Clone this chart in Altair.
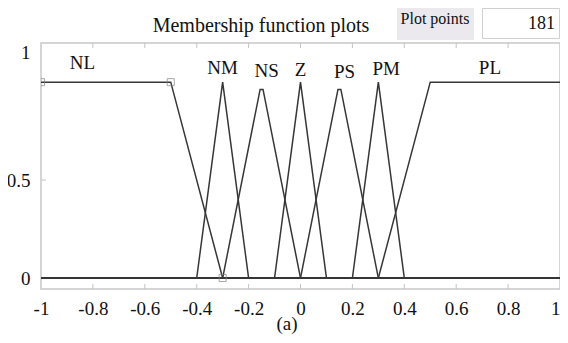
import altair as alt
import pandas as pd

# ---- data ----
mf_names = ["NL", "NM", "NS", "Z", "PS", "PM", "PL"]
mf_x = [
    [-1, -0.5, -0.3, 1],
    [-1, -0.4, -0.3, -0.2, 1],
    [-1, -0.3, -0.1556, -0.1444, 0, 1],
    [-1, -0.1, 0, 0.1, 1],
    [-1, 0, 0.1444, 0.1556, 0.3, 1],
    [-1, 0.2, 0.3, 0.4, 1],
    [-1, 0.3, 0.5, 1],
]
mf_y = [
    [1, 1, 0, 0],
    [0, 0, 1, 0, 0],
    [0, 0, 0.963, 0.963, 0, 0],
    [0, 0, 1, 0, 0],
    [0, 0, 0.963, 0.963, 0, 0],
    [0, 0, 1, 0, 0],
    [0, 0, 1, 1],
]
label_x = [-0.84, -0.30, -0.13, 0.0, 0.17, 0.33, 0.73]
label_y = [1.10, 1.07, 1.055, 1.06, 1.05, 1.065, 1.07]
marker_x = [-1, -0.5, -0.3]
marker_y = [1, 1, 0]
xtick_values = [-1, -0.8, -0.6, -0.4, -0.2, 0, 0.2, 0.4, 0.6, 0.8, 1]
xtick_inner = [-0.8, -0.6, -0.4, -0.2, 0, 0.2, 0.4, 0.6, 0.8]
ytick_values = [0, 0.5, 1.15]
ytick_labels = ["0", "0.5", "1"]
ytick_inner = [0, 0.5]
title_text = "Membership function plots"
points_label = "Plot points"
points_value = "181"
caption = "(a)"

# ---- tables ----
rows = []
for name, xs, ys in zip(mf_names, mf_x, mf_y):
    for i, (xv, yv) in enumerate(zip(xs, ys)):
        rows.append({"mf": name, "i": i, "x": xv, "y": yv})
lines_df = pd.DataFrame(rows)
labels_df = pd.DataFrame({"mf": mf_names, "x": label_x, "y": label_y})
markers_df = pd.DataFrame({"x": marker_x, "y": marker_y})
xin_df = pd.DataFrame({"x": xtick_inner})
yin_df = pd.DataFrame({"y": ytick_inner})

W, H = 519, 246
FONT = "Liberation Serif"
TXT = "#111111"

xscale = alt.Scale(domain=[-1, 1], nice=False, zero=False)
yscale = alt.Scale(domain=[-0.056, 1.2], nice=False, zero=False)

x_label_expr = "datum.value < -0.001 ? '-' + format(-datum.value, '.1~f') : format(datum.value, '.1~f')"
y_label_expr = "'" + ytick_labels[-1] + "'"
for v, l in reversed(list(zip(ytick_values[:-1], ytick_labels[:-1]))):
    y_label_expr = f"abs(datum.value - {v}) < 0.01 ? '{l}' : " + y_label_expr

xaxis = alt.Axis(values=xtick_values, labelExpr=x_label_expr, ticks=False, domain=False,
                 grid=False, title=None, labelPadding=10, labelFontSize=19, labelFont=FONT,
                 labelColor=TXT, labelFlush=False, labelOverlap=False,
                 labelAlign=alt.ExprRef(expr="datum.value > 0.99 ? 'right' : 'center'"))
yaxis = alt.Axis(values=ytick_values, labelExpr=y_label_expr, ticks=False, domain=False,
                 grid=False, title=None, labelPadding=11, labelFontSize=19, labelFont=FONT,
                 labelColor=TXT, labelFlush=False, labelOverlap=False, labelBaseline="middle")

lines = alt.Chart(lines_df).mark_line(color="#363636", strokeWidth=1.5, clip=True).encode(
    x=alt.X("x:Q", scale=xscale, axis=xaxis),
    y=alt.Y("y:Q", scale=yscale, axis=yaxis),
    detail="mf:N",
    order="i:Q",
)

markers = alt.Chart(markers_df).mark_point(shape="square", filled=False, size=50,
                                           color="#808080", strokeWidth=1, clip=True).encode(
    x=alt.X("x:Q", scale=xscale), y=alt.Y("y:Q", scale=yscale))

mf_labels = alt.Chart(labels_df).mark_text(font=FONT, fontSize=19, color=TXT,
                                           baseline="middle", align="center").encode(
    x=alt.X("x:Q", scale=xscale), y=alt.Y("y:Q", scale=yscale), text="mf:N")

xt_top = alt.Chart(xin_df).mark_rule(color="#c4c4c4", strokeWidth=1).encode(
    x=alt.X("x:Q", scale=xscale), y=alt.value(0), y2=alt.value(5))
xt_bot = alt.Chart(xin_df).mark_rule(color="#c4c4c4", strokeWidth=1).encode(
    x=alt.X("x:Q", scale=xscale), y=alt.value(H - 5), y2=alt.value(H))
yt_left = alt.Chart(yin_df).mark_rule(color="#c4c4c4", strokeWidth=1).encode(
    y=alt.Y("y:Q", scale=yscale), x=alt.value(0), x2=alt.value(5))

one = alt.Data(values=[{}])
title = alt.Chart(one).mark_text(text=title_text, font=FONT, fontSize=20, color=TXT,
                                 align="center", baseline="alphabetic").encode(
    x=alt.value(220), y=alt.value(-11))
pp_box = alt.Chart(one).mark_rect(color="#ebe8ee").encode(
    x=alt.value(356), x2=alt.value(433), y=alt.value(-35), y2=alt.value(-3))
pp_text = alt.Chart(one).mark_text(text=points_label, font=FONT, fontSize=16, color=TXT,
                                   align="center", baseline="middle").encode(
    x=alt.value(394), y=alt.value(-24))
val_box = alt.Chart(one).mark_rect(fill="white", stroke="#d0d0d0", strokeWidth=1).encode(
    x=alt.value(441.5), x2=alt.value(518.5), y=alt.value(-34.5), y2=alt.value(-4.5))
val_text = alt.Chart(one).mark_text(text=points_value, font=FONT, fontSize=18, color=TXT,
                                    align="right", baseline="middle").encode(
    x=alt.value(514), y=alt.value(-19))
cap = alt.Chart(one).mark_text(text=caption, font=FONT, fontSize=19, color=TXT,
                               align="center", baseline="middle").encode(
    x=alt.value(246), y=alt.value(281))

chart = alt.layer(
    xt_top, xt_bot, yt_left, lines, markers, mf_labels,
    title, pp_box, pp_text, val_box, val_text, cap,
).properties(
    width=W, height=H,
    autosize="none",
    padding={"left": 33, "top": 35, "right": 0, "bottom": 46},
).configure_view(stroke="#c8c8c8", strokeWidth=1.5)

chart.save("out.html", embed_options={"renderer": "svg", "actions": False})
